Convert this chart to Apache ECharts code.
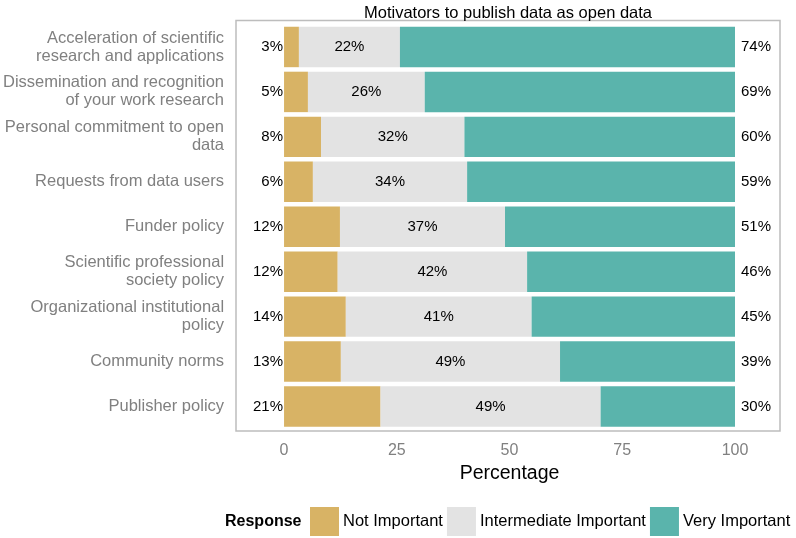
<!DOCTYPE html>
<html>
<head>
<meta charset="utf-8">
<script src="https://cdn.jsdelivr.net/npm/echarts@6/dist/echarts.min.js"></script>
<style>html,body{margin:0;padding:0;background:#fff}#c{width:796px;height:538px}</style>
</head>
<body>
<div id="c"></div>
<script>
var titleText = 'Motivators to publish data as open data';
var categories = [
  'Acceleration of scientific\nresearch and applications',
  'Dissemination and recognition\nof your work research',
  'Personal commitment to open\ndata',
  'Requests from data users',
  'Funder policy',
  'Scientific professional\nsociety policy',
  'Organizational institutional\npolicy',
  'Community norms',
  'Publisher policy'
];
var notImportant  = [3.3, 5.3, 8.2, 6.4, 12.4, 11.9, 13.7, 12.6, 21.4];
var intermediate  = [22.4, 25.9, 31.8, 34.2, 36.6, 42.0, 41.2, 48.6, 48.8];
var veryImportant = [74.3, 68.8, 60.0, 59.4, 51.0, 46.1, 45.1, 38.8, 29.8];
var seriesNames = ['Not Important', 'Intermediate Important', 'Very Important'];
var xTicks = [0, 25, 50, 75, 100];
var xTitle = 'Percentage';
var legendTitle = 'Response';

var FONT = '"Liberation Sans", Arial, Helvetica, sans-serif';
var colors = ['#D8B365', '#E3E3E3', '#5AB4AC'];
function pct(p) { return Math.round(p.value) + '%'; }
var lbl = {fontFamily: FONT, fontSize: 15, color: '#000'};

var chart = echarts.init(document.getElementById('c'), null, {renderer: 'canvas'});
chart.setOption({
  animation: false,
  title: {
    text: titleText, left: 503, top: 0, textAlign: 'center',
    textStyle: {fontFamily: FONT, fontSize: 16.5, fontWeight: 'normal', color: '#000'}
  },
  legend: {
    left: 310, top: 507, width: 490, padding: 0, itemWidth: 29, itemHeight: 29, itemGap: 4,
    icon: 'rect',
    textStyle: {fontFamily: FONT, fontSize: 16.5, color: '#000', padding: [0, 0, 0, -1]},
    data: seriesNames
  },
  graphic: [
    {type: 'rect', z: -1, shape: {x: 236, y: 20.5, width: 544, height: 410.5},
     style: {fill: null, stroke: '#BDBDBD', lineWidth: 1.5}},
    {type: 'text', x: 225, y: 521.5,
     style: {text: legendTitle, fontFamily: FONT, fontSize: 16, fontWeight: 'bold', fill: '#000', verticalAlign: 'middle'}}
  ],
  grid: {left: 283, right: 61, top: 24.5, bottom: 109, containLabel: false},
  xAxis: {
    type: 'value', min: xTicks[0], max: xTicks[xTicks.length - 1], interval: 25,
    axisLine: {show: false}, axisTick: {show: false},
    splitLine: {show: false},
    axisLabel: {margin: 14, fontFamily: FONT, fontSize: 16, color: '#808080'},
    name: xTitle, nameLocation: 'middle', nameGap: 32,
    nameTextStyle: {fontFamily: FONT, fontSize: 19.5, color: '#000'}
  },
  yAxis: {
    type: 'category', data: categories, inverse: true,
    axisLine: {show: false}, axisTick: {show: false},
    axisLabel: {margin: 60, fontFamily: FONT, fontSize: 16.5, color: '#808080', lineHeight: 18, align: 'right'}
  },
  series: [
    {name: seriesNames[0], type: 'bar', stack: 's', barWidth: '90%', data: notImportant,
     itemStyle: {color: colors[0]},
     label: Object.assign({show: true, position: 'left', distance: 1, formatter: pct}, lbl)},
    {name: seriesNames[1], type: 'bar', stack: 's', barWidth: '90%', data: intermediate,
     itemStyle: {color: colors[1]},
     label: Object.assign({show: true, position: 'inside', formatter: pct}, lbl)},
    {name: seriesNames[2], type: 'bar', stack: 's', barWidth: '90%', data: veryImportant,
     itemStyle: {color: colors[2]},
     label: Object.assign({show: true, position: 'right', distance: 6, formatter: pct}, lbl)}
  ]
});
</script>
</body>
</html>
